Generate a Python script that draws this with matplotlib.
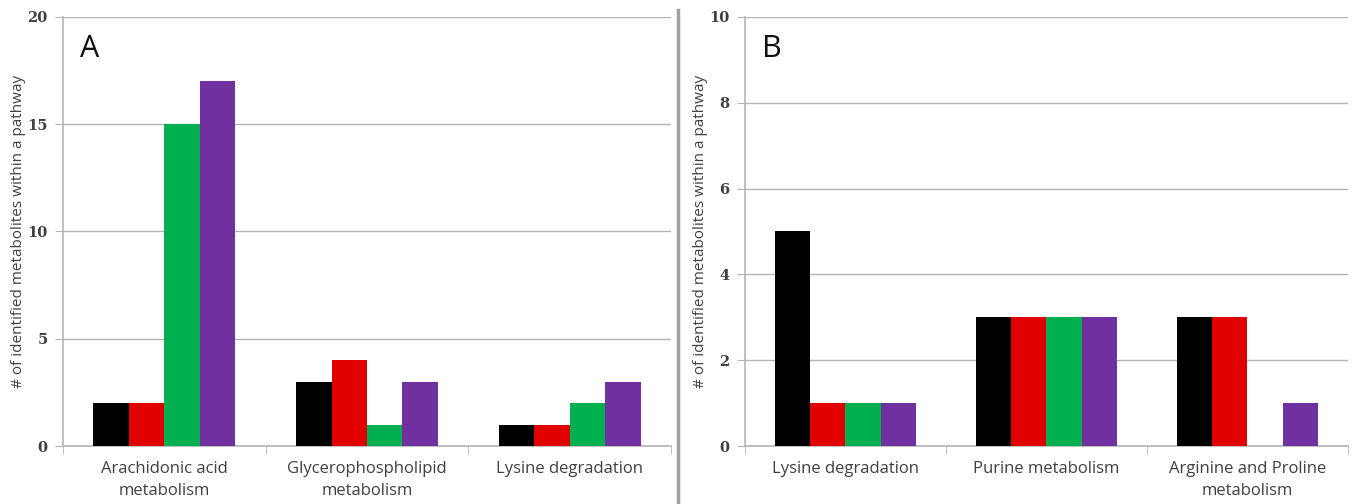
import matplotlib.pyplot as plt
import numpy as np

# panel A
cats_a = ["Arachidonic acid\nmetabolism", "Glycerophospholipid\nmetabolism", "Lysine degradation"]
black_a = [2, 3, 1]
red_a = [2, 4, 1]
green_a = [15, 1, 2]
purple_a = [17, 3, 3]

# panel B
cats_b = ["Lysine degradation", "Purine metabolism", "Arginine and Proline\nmetabolism"]
black_b = [5, 3, 3]
red_b = [1, 3, 3]
green_b = [1, 3, 0]
purple_b = [1, 3, 1]

colors = ["#000000", "#e00000", "#00b050", "#7030a0"]
grid_col = "#b4b4b4"
text_col = "#404040"

plt.rcParams['font.family'] = ['Open Sans', 'DejaVu Sans']

fig = plt.figure(figsize=(13.52, 5.04), dpi=100)
ax_a = fig.add_axes([63 / 1352, 58 / 504, 608 / 1352, 429 / 504])
ax_b = fig.add_axes([745 / 1352, 58 / 504, 603 / 1352, 429 / 504])


def draw(ax, cats, series, ymax, step, letter):
    x = np.arange(len(cats))
    w = 0.175
    for i, (vals, c) in enumerate(zip(series, colors)):
        ax.bar(x + (i - 1.5) * w, vals, w, color=c, zorder=3)
    ax.set_xlim(-0.5, len(cats) - 0.5)
    ax.set_ylim(0, ymax)
    ax.set_yticks(np.arange(0, ymax + 1, step))
    ax.yaxis.grid(True, color=grid_col, linewidth=1)
    ax.set_axisbelow(True)
    for s in ["top", "right"]:
        ax.spines[s].set_visible(False)
    for s in ["left", "bottom"]:
        ax.spines[s].set_color(grid_col)
        ax.spines[s].set_linewidth(1.2)
    ax.set_xticks(x)
    ax.set_xticklabels(cats, fontsize=12, color=text_col, linespacing=1.45)
    ax.tick_params(axis="x", length=0, pad=11)
    ax.set_xticks(np.arange(-0.5, len(cats)), minor=True)
    ax.tick_params(axis="x", which="minor", length=6, color=grid_col)
    ax.tick_params(axis="y", length=6, pad=5, color=grid_col, labelsize=10.5, labelcolor=text_col)
    for lab in ax.get_yticklabels():
        lab.set_fontfamily("DejaVu Serif")
        lab.set_fontweight("bold")
    ax.set_ylabel("# of identified metabolites within a pathway", fontsize=11, color=text_col, labelpad=1)
    ax.text(0.028, 0.96, letter, transform=ax.transAxes, fontsize=22, va="top", ha="left", color="#111111")


draw(ax_a, cats_a, [black_a, red_a, green_a, purple_a], 20, 5, "A")
draw(ax_b, cats_b, [black_b, red_b, green_b, purple_b], 10, 2, "B")

# divider between panels
fig.add_artist(plt.Line2D([678 / 1352, 678 / 1352], [0, 494 / 504], color="#a0a0a0", linewidth=2.5))

fig.savefig("out.png", dpi=100)
